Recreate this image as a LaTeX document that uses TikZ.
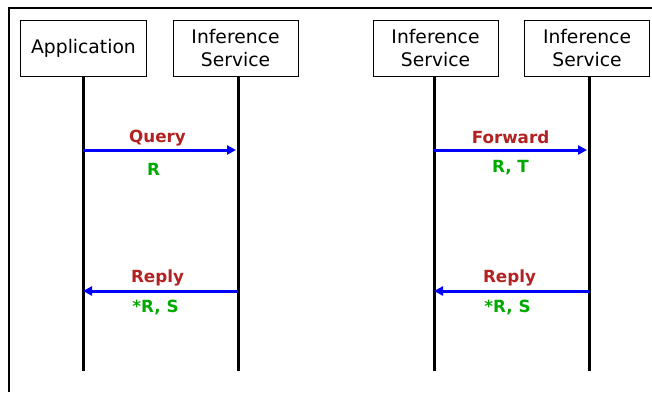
\documentclass[tikz,border=0pt]{standalone}
\usepackage{fontspec}
\setmainfont{DejaVu Sans}
\usetikzlibrary{arrows.meta}
\definecolor{lblred}{RGB}{178,34,34}
\definecolor{lblgreen}{RGB}{0,170,0}
\begin{document}
\begin{tikzpicture}[x=1bp,y=-1bp,
  actor/.style={draw=black,line width=1bp,minimum width=125bp,minimum height=56bp,inner sep=0pt,align=center,font=\fontsize{18.8}{24}\selectfont},
  life/.style={line width=3bp,black},
  msg/.style={line width=3bp,blue,-{Triangle[length=9bp,width=9bp]}},
  top/.style={text=lblred,anchor=base,font=\bfseries\fontsize{16.8}{19}\selectfont},
  bot/.style={text=lblgreen,anchor=base,font=\bfseries\fontsize{16.8}{19}\selectfont}]
\useasboundingbox (0,0) rectangle (652,392);
\draw[line width=1.2bp] (9,392) -- (9,8) -- (652,8);
\node[actor] (app) at (83.5,48) {Application};
\node[actor] (is1) at (235.5,48) {Inference\\Service};
\node[actor] (is2) at (435.5,48) {Inference\\Service};
\node[actor] (is3) at (587,48) {Inference\\Service};
\coordinate (appE) at (83,371);
\coordinate (is1E) at (238,371);
\coordinate (is2E) at (434,371);
\coordinate (is3E) at (589,371);
\draw[life] (83,76) -- (appE);
\draw[life] (238,76) -- (is1E);
\draw[life] (434,76) -- (is2E);
\draw[life] (589,76) -- (is3E);
\coordinate (q1) at (83,150); \coordinate (q2) at (236,150);
\coordinate (f1) at (434,150); \coordinate (f2) at (587,150);
\coordinate (r1) at (238,291); \coordinate (r2) at (83,291);
\coordinate (s1) at (589,291); \coordinate (s2) at (434,291);
\draw[msg] (q1) -- node[top,yshift=8bp,xshift=-2bp] (lq) {Query} node[bot,yshift=-25bp,xshift=-6bp] (lr) {R} (q2);
\draw[msg] (f1) -- node[top,yshift=7bp] (lf) {Forward} node[bot,yshift=-22bp] (lrt) {R, T} (f2);
\draw[msg] (r1) -- node[top,yshift=9bp,xshift=-3bp] (lp1) {Reply} node[bot,yshift=-21bp,xshift=-5bp] (lrs1) {*R, S} (r2);
\draw[msg] (s1) -- node[top,yshift=9bp,xshift=-2bp] (lp2) {Reply} node[bot,yshift=-21bp,xshift=-4bp] (lrs2) {*R, S} (s2);
\end{tikzpicture}
\end{document}
